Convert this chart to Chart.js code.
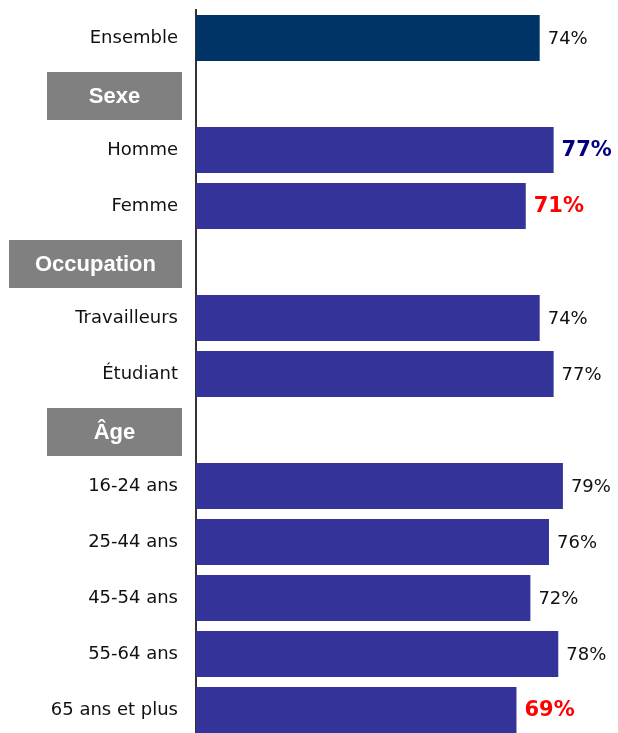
<!DOCTYPE html>
<html>
<head>
<meta charset="utf-8">
<script src="https://cdn.jsdelivr.net/npm/chart.js@4/dist/chart.umd.min.js"></script>
<style>
  html, body { margin: 0; padding: 0; background: #fff; overflow: hidden; }
  canvas { display: block; }
</style>
</head>
<body>
<canvas id="chart" width="618" height="740"></canvas>
<script>
// Categories (null value = group header row)
const categories = ['Ensemble', 'Sexe', 'Homme', 'Femme', 'Occupation', 'Travailleurs', 'Étudiant',
  'Âge', '16-24 ans', '25-44 ans', '45-54 ans', '55-64 ans', '65 ans et plus'];
const values = [74, null, 77, 71, null, 74, 77, null, 79, 76, 72, 78, 69];
const highlightHigh = ['Homme'];
const highlightLow = ['Femme', '65 ans et plus'];

const barColors = categories.map(c => c === 'Ensemble' ? '#003366' : '#333399');

// Value labels to the right of each bar
const valueLabels = {
  id: 'valueLabels',
  afterDatasetsDraw(chart) {
    const ctx = chart.ctx;
    const meta = chart.getDatasetMeta(0);
    ctx.save();
    ctx.textBaseline = 'middle';
    ctx.textAlign = 'left';
    meta.data.forEach((bar, i) => {
      if (values[i] == null) return;
      const cat = categories[i];
      if (highlightHigh.includes(cat)) {
        ctx.font = 'bold 21px "DejaVu Sans"';
        ctx.fillStyle = '#000080';
      } else if (highlightLow.includes(cat)) {
        ctx.font = 'bold 21px "DejaVu Sans"';
        ctx.fillStyle = '#ff0000';
      } else {
        ctx.font = '18px "DejaVu Sans"';
        ctx.fillStyle = '#111';
      }
      ctx.fillText(values[i] + '%', bar.x + 8, bar.y + 1);
    });
    ctx.restore();
  }
};

// Grey header boxes for the group rows
const groupHeaders = {
  id: 'groupHeaders',
  afterDraw(chart) {
    const ctx = chart.ctx;
    const y = chart.scales.y;
    ctx.save();
    ctx.font = 'bold 22px "Liberation Sans"';
    ctx.textAlign = 'center';
    ctx.textBaseline = 'middle';
    categories.forEach((cat, i) => {
      if (values[i] != null) return;
      const cy = y.getPixelForValue(i) + 2;
      const tw = ctx.measureText(cat).width;
      const w = Math.max(135, tw + 52);
      const right = 182;
      ctx.fillStyle = '#808080';
      ctx.fillRect(right - w, cy - 24, w, 48);
      ctx.fillStyle = '#fff';
      ctx.fillText(cat, right - w / 2, cy + 1);
    });
    ctx.restore();
  }
};

new Chart(document.getElementById('chart').getContext('2d'), {
  type: 'bar',
  data: {
    labels: categories,
    datasets: [{
      data: values,
      backgroundColor: barColors,
      borderWidth: 0,
      barPercentage: 0.82,
      categoryPercentage: 1
    }]
  },
  options: {
    indexAxis: 'y',
    responsive: false,
    animation: false,
    layout: { padding: { top: 10, bottom: 2, right: 4, left: 0 } },
    plugins: {
      legend: { display: false },
      tooltip: { enabled: false }
    },
    scales: {
      x: {
        display: false,
        min: 0,
        max: 90
      },
      y: {
        afterFit(scale) {
          scale.width = 196;
          scale.paddingTop = 0;
          scale.paddingBottom = 0;
        },
        grid: { display: false, drawTicks: false },
        border: { display: true, color: '#333', width: 2 },
        ticks: {
          padding: 18,
          color: '#111',
          font: { family: 'DejaVu Sans', size: 18 },
          callback: (v, i) => values[i] == null ? '' : categories[i]
        }
      }
    }
  },
  plugins: [valueLabels, groupHeaders]
});
</script>
</body>
</html>
